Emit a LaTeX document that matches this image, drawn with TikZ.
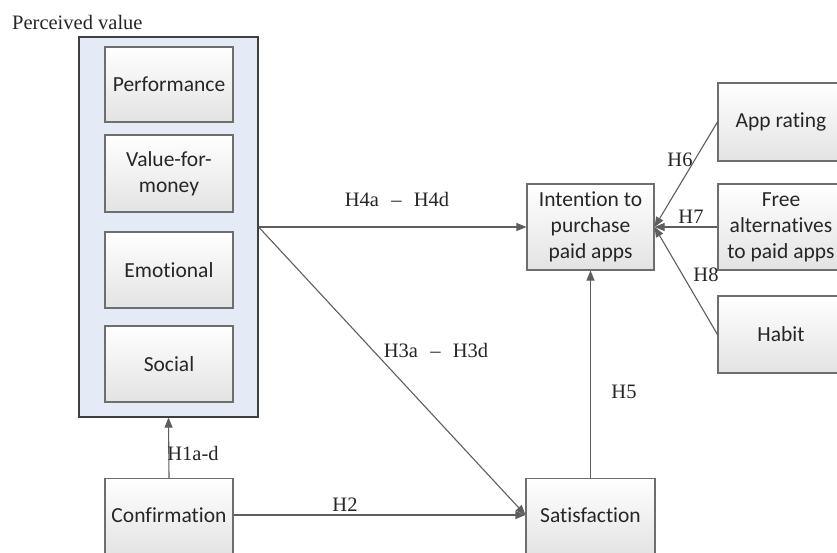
\documentclass[tikz,border=0pt]{standalone}
\usepackage{fontspec}
\setmainfont{Liberation Serif}
\newfontfamily\boxfont[Ligatures=NoCommon]{Carlito}
\usetikzlibrary{arrows.meta}
\definecolor{edgegray}{HTML}{5E5E5E}
\definecolor{boxborder}{HTML}{6E6E6E}
\definecolor{outerfill}{HTML}{E4EBF6}
\definecolor{outerborder}{HTML}{3F3F3F}
\definecolor{txtgray}{HTML}{262626}
\tikzset{
  boxtext/.style={font=\boxfont\fontsize{21.5}{26}\selectfont, text=txtgray},
  constr/.style={draw=boxborder, line width=1.1pt, top color=white, bottom color=black!11,
    minimum width=128pt, align=center, boxtext, inner sep=0pt},
  outerbox/.style={draw=outerborder, line width=1.2pt, fill=outerfill, minimum width=179pt,
    minimum height=380pt, inner sep=0pt},
  hyp/.style={font=\fontsize{20.5}{23}\selectfont, text=txtgray, inner sep=0pt},
  link/.style={draw=edgegray, line width=1.1pt, -{Triangle[length=10pt,width=8pt]}},
}
\begin{document}
\begin{tikzpicture}[x=1pt,y=-1pt]
\useasboundingbox (0,0) rectangle (837,552);
\fill[white] (0,0) rectangle (837,552);
\node[outerbox] (pv) at (168.5,227) {};
\node[constr, minimum height=75pt] (perf) at (169,84.5) {Performance};
\node[constr, minimum height=77pt] (vfm) at (169,173.5) {Value-for-\\money};
\node[constr, minimum height=76pt] (emo) at (169,270) {Emotional};
\node[constr, minimum height=76pt] (soc) at (169,364) {Social};
\node[constr, minimum height=76pt, anchor=north] (conf) at (169,478) {};
\node[boxtext] (conft) at (169,515) {Confirmation};
\node[constr, minimum width=129pt, minimum height=76pt, anchor=north] (sat) at (590.5,478) {};
\node[boxtext] (satt) at (590.5,515) {Satisfaction};
\node[constr, minimum width=127pt, minimum height=86pt] (int) at (590.5,227) {Intention to\\purchase\\paid apps};
\node[constr, minimum width=126pt, minimum height=78pt] (app) at (781,122) {App rating};
\node[constr, minimum width=126pt, minimum height=86pt] (free) at (781,227) {Free\\alternatives\\to paid apps};
\node[constr, minimum width=126pt, minimum height=77pt] (hab) at (781,334.5) {Habit};

\node[hyp, anchor=west] (pvl) at (12,22) {Perceived value};

\draw[link] (pv.east) -- (int.west);
\draw[link] (pv.east) -- (sat.west |- satt);
\draw[link] (conf.east |- conft) -- (sat.west |- satt);
\draw[link] (conf.north) -- (pv.south);
\draw[link] (sat.north) -- (int.south);
\draw[link] (app.west) -- (int.east);
\draw[link] (free.west) -- (int.east);
\draw[link] (hab.west) -- (int.east);

\node[hyp] (h4) at (397,199) {H4a\hspace{0.6em}–\hspace{0.6em}H4d};
\node[hyp] (h3) at (436,350) {H3a\hspace{0.6em}–\hspace{0.6em}H3d};
\node[hyp] (h2) at (345,505) {H2};
\node[hyp] (h1) at (193,453) {H1a-d};
\node[hyp] (h5) at (624,392) {H5};
\node[hyp] (h6) at (680,160) {H6};
\node[hyp] (h7) at (691,217) {H7};
\node[hyp] (h8) at (706,275) {H8};
\end{tikzpicture}
\end{document}
